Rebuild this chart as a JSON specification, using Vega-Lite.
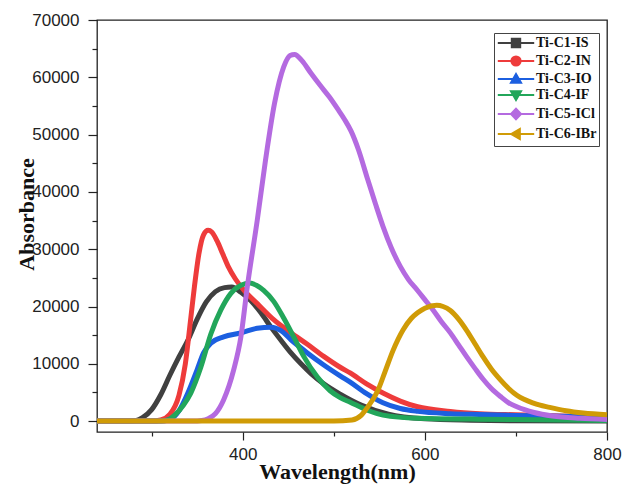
{
  "$schema": "https://vega.github.io/schema/vega-lite/v6.json",
  "width": 510,
  "height": 412,
  "autosize": {"type": "none"},
  "padding": {"left": 97, "top": 20, "right": 15, "bottom": 52},
  "background": "white",
  "data": {"values": [
    {"s":"Ti-C1-IS","x":240,"y":0},{"s":"Ti-C1-IS","x":270,"y":0},{"s":"Ti-C1-IS","x":283,"y":100},{"s":"Ti-C1-IS","x":290,"y":600},{"s":"Ti-C1-IS","x":300,"y":2000},{"s":"Ti-C1-IS","x":310,"y":4600},{"s":"Ti-C1-IS","x":320,"y":8000},{"s":"Ti-C1-IS","x":330,"y":11200},{"s":"Ti-C1-IS","x":340,"y":14200},{"s":"Ti-C1-IS","x":350,"y":17800},{"s":"Ti-C1-IS","x":360,"y":20800},{"s":"Ti-C1-IS","x":370,"y":22600},{"s":"Ti-C1-IS","x":380,"y":23300},{"s":"Ti-C1-IS","x":388,"y":23400},{"s":"Ti-C1-IS","x":398,"y":22500},{"s":"Ti-C1-IS","x":409,"y":21000},{"s":"Ti-C1-IS","x":420,"y":18900},{"s":"Ti-C1-IS","x":431,"y":16400},{"s":"Ti-C1-IS","x":442,"y":14100},{"s":"Ti-C1-IS","x":453,"y":11900},{"s":"Ti-C1-IS","x":464,"y":10000},{"s":"Ti-C1-IS","x":475,"y":8300},{"s":"Ti-C1-IS","x":489,"y":6500},{"s":"Ti-C1-IS","x":507,"y":4700},{"s":"Ti-C1-IS","x":530,"y":2800},{"s":"Ti-C1-IS","x":560,"y":1200},{"s":"Ti-C1-IS","x":600,"y":400},{"s":"Ti-C1-IS","x":650,"y":150},{"s":"Ti-C1-IS","x":700,"y":50},{"s":"Ti-C1-IS","x":800,"y":0},
    {"s":"Ti-C2-IN","x":240,"y":0},{"s":"Ti-C2-IN","x":300,"y":0},{"s":"Ti-C2-IN","x":310,"y":200},{"s":"Ti-C2-IN","x":320,"y":1200},{"s":"Ti-C2-IN","x":330,"y":4500},{"s":"Ti-C2-IN","x":337,"y":10000},{"s":"Ti-C2-IN","x":343,"y":18000},{"s":"Ti-C2-IN","x":347,"y":23500},{"s":"Ti-C2-IN","x":352,"y":29300},{"s":"Ti-C2-IN","x":357,"y":32500},{"s":"Ti-C2-IN","x":362,"y":33300},{"s":"Ti-C2-IN","x":366,"y":33000},{"s":"Ti-C2-IN","x":372,"y":31400},{"s":"Ti-C2-IN","x":378,"y":29200},{"s":"Ti-C2-IN","x":384,"y":27000},{"s":"Ti-C2-IN","x":392,"y":24800},{"s":"Ti-C2-IN","x":401,"y":22900},{"s":"Ti-C2-IN","x":416,"y":20500},{"s":"Ti-C2-IN","x":434,"y":17700},{"s":"Ti-C2-IN","x":453,"y":15400},{"s":"Ti-C2-IN","x":471,"y":13400},{"s":"Ti-C2-IN","x":489,"y":11300},{"s":"Ti-C2-IN","x":507,"y":9400},{"s":"Ti-C2-IN","x":518,"y":8400},{"s":"Ti-C2-IN","x":536,"y":6500},{"s":"Ti-C2-IN","x":554,"y":4900},{"s":"Ti-C2-IN","x":573,"y":3500},{"s":"Ti-C2-IN","x":592,"y":2500},{"s":"Ti-C2-IN","x":628,"y":1700},{"s":"Ti-C2-IN","x":660,"y":1300},{"s":"Ti-C2-IN","x":700,"y":1100},{"s":"Ti-C2-IN","x":750,"y":900},{"s":"Ti-C2-IN","x":800,"y":750},
    {"s":"Ti-C3-IO","x":240,"y":0},{"s":"Ti-C3-IO","x":310,"y":0},{"s":"Ti-C3-IO","x":320,"y":300},{"s":"Ti-C3-IO","x":330,"y":1800},{"s":"Ti-C3-IO","x":340,"y":5000},{"s":"Ti-C3-IO","x":350,"y":9000},{"s":"Ti-C3-IO","x":357,"y":11900},{"s":"Ti-C3-IO","x":365,"y":13600},{"s":"Ti-C3-IO","x":379,"y":14700},{"s":"Ti-C3-IO","x":398,"y":15400},{"s":"Ti-C3-IO","x":416,"y":16200},{"s":"Ti-C3-IO","x":431,"y":16400},{"s":"Ti-C3-IO","x":442,"y":15800},{"s":"Ti-C3-IO","x":453,"y":14200},{"s":"Ti-C3-IO","x":471,"y":11900},{"s":"Ti-C3-IO","x":489,"y":9800},{"s":"Ti-C3-IO","x":507,"y":7900},{"s":"Ti-C3-IO","x":518,"y":6800},{"s":"Ti-C3-IO","x":536,"y":4800},{"s":"Ti-C3-IO","x":554,"y":3200},{"s":"Ti-C3-IO","x":573,"y":2200},{"s":"Ti-C3-IO","x":592,"y":1700},{"s":"Ti-C3-IO","x":628,"y":1300},{"s":"Ti-C3-IO","x":660,"y":1150},{"s":"Ti-C3-IO","x":700,"y":1000},{"s":"Ti-C3-IO","x":750,"y":850},{"s":"Ti-C3-IO","x":800,"y":700},
    {"s":"Ti-C4-IF","x":240,"y":0},{"s":"Ti-C4-IF","x":310,"y":0},{"s":"Ti-C4-IF","x":318,"y":200},{"s":"Ti-C4-IF","x":325,"y":1000},{"s":"Ti-C4-IF","x":335,"y":2800},{"s":"Ti-C4-IF","x":343,"y":4900},{"s":"Ti-C4-IF","x":354,"y":9400},{"s":"Ti-C4-IF","x":365,"y":15200},{"s":"Ti-C4-IF","x":376,"y":19400},{"s":"Ti-C4-IF","x":387,"y":22300},{"s":"Ti-C4-IF","x":398,"y":23700},{"s":"Ti-C4-IF","x":408,"y":24100},{"s":"Ti-C4-IF","x":415,"y":23700},{"s":"Ti-C4-IF","x":423,"y":22800},{"s":"Ti-C4-IF","x":434,"y":20900},{"s":"Ti-C4-IF","x":445,"y":18000},{"s":"Ti-C4-IF","x":456,"y":14700},{"s":"Ti-C4-IF","x":467,"y":11300},{"s":"Ti-C4-IF","x":482,"y":7700},{"s":"Ti-C4-IF","x":496,"y":5300},{"s":"Ti-C4-IF","x":507,"y":4100},{"s":"Ti-C4-IF","x":518,"y":3300},{"s":"Ti-C4-IF","x":537,"y":1900},{"s":"Ti-C4-IF","x":554,"y":1050},{"s":"Ti-C4-IF","x":592,"y":500},{"s":"Ti-C4-IF","x":650,"y":350},{"s":"Ti-C4-IF","x":700,"y":280},{"s":"Ti-C4-IF","x":800,"y":120},
    {"s":"Ti-C5-ICl","x":240,"y":0},{"s":"Ti-C5-ICl","x":345,"y":0},{"s":"Ti-C5-ICl","x":355,"y":100},{"s":"Ti-C5-ICl","x":362,"y":400},{"s":"Ti-C5-ICl","x":370,"y":1300},{"s":"Ti-C5-ICl","x":379,"y":3700},{"s":"Ti-C5-ICl","x":390,"y":8900},{"s":"Ti-C5-ICl","x":398,"y":14700},{"s":"Ti-C5-ICl","x":405,"y":23400},{"s":"Ti-C5-ICl","x":416,"y":35100},{"s":"Ti-C5-ICl","x":425,"y":45500},{"s":"Ti-C5-ICl","x":435,"y":55500},{"s":"Ti-C5-ICl","x":445,"y":61800},{"s":"Ti-C5-ICl","x":452,"y":63800},{"s":"Ti-C5-ICl","x":457,"y":64000},{"s":"Ti-C5-ICl","x":465,"y":62900},{"s":"Ti-C5-ICl","x":475,"y":60700},{"s":"Ti-C5-ICl","x":485,"y":58600},{"s":"Ti-C5-ICl","x":495,"y":56600},{"s":"Ti-C5-ICl","x":505,"y":54300},{"s":"Ti-C5-ICl","x":512,"y":52600},{"s":"Ti-C5-ICl","x":519,"y":50600},{"s":"Ti-C5-ICl","x":527,"y":47400},{"s":"Ti-C5-ICl","x":537,"y":42300},{"s":"Ti-C5-ICl","x":546,"y":37800},{"s":"Ti-C5-ICl","x":554,"y":34000},{"s":"Ti-C5-ICl","x":563,"y":30300},{"s":"Ti-C5-ICl","x":573,"y":27000},{"s":"Ti-C5-ICl","x":582,"y":24700},{"s":"Ti-C5-ICl","x":592,"y":22800},{"s":"Ti-C5-ICl","x":600,"y":21200},{"s":"Ti-C5-ICl","x":609,"y":19400},{"s":"Ti-C5-ICl","x":618,"y":17400},{"s":"Ti-C5-ICl","x":628,"y":15400},{"s":"Ti-C5-ICl","x":637,"y":13300},{"s":"Ti-C5-ICl","x":646,"y":11200},{"s":"Ti-C5-ICl","x":655,"y":9200},{"s":"Ti-C5-ICl","x":664,"y":7300},{"s":"Ti-C5-ICl","x":673,"y":5700},{"s":"Ti-C5-ICl","x":683,"y":4300},{"s":"Ti-C5-ICl","x":692,"y":3200},{"s":"Ti-C5-ICl","x":701,"y":2500},{"s":"Ti-C5-ICl","x":720,"y":1500},{"s":"Ti-C5-ICl","x":740,"y":900},{"s":"Ti-C5-ICl","x":770,"y":500},{"s":"Ti-C5-ICl","x":800,"y":300},
    {"s":"Ti-C6-IBr","x":240,"y":0},{"s":"Ti-C6-IBr","x":500,"y":0},{"s":"Ti-C6-IBr","x":520,"y":200},{"s":"Ti-C6-IBr","x":530,"y":1000},{"s":"Ti-C6-IBr","x":537,"y":2400},{"s":"Ti-C6-IBr","x":548,"y":5200},{"s":"Ti-C6-IBr","x":556,"y":8500},{"s":"Ti-C6-IBr","x":565,"y":12300},{"s":"Ti-C6-IBr","x":576,"y":15900},{"s":"Ti-C6-IBr","x":585,"y":17900},{"s":"Ti-C6-IBr","x":592,"y":18900},{"s":"Ti-C6-IBr","x":600,"y":19700},{"s":"Ti-C6-IBr","x":613,"y":20200},{"s":"Ti-C6-IBr","x":620,"y":20000},{"s":"Ti-C6-IBr","x":628,"y":19300},{"s":"Ti-C6-IBr","x":637,"y":17800},{"s":"Ti-C6-IBr","x":646,"y":15800},{"s":"Ti-C6-IBr","x":655,"y":13500},{"s":"Ti-C6-IBr","x":664,"y":11200},{"s":"Ti-C6-IBr","x":673,"y":9100},{"s":"Ti-C6-IBr","x":683,"y":7200},{"s":"Ti-C6-IBr","x":692,"y":5700},{"s":"Ti-C6-IBr","x":701,"y":4500},{"s":"Ti-C6-IBr","x":720,"y":3100},{"s":"Ti-C6-IBr","x":737,"y":2400},{"s":"Ti-C6-IBr","x":755,"y":1800},{"s":"Ti-C6-IBr","x":774,"y":1400},{"s":"Ti-C6-IBr","x":800,"y":1100}
  ]},
  "encoding": {
    "x": {"field": "x", "type": "quantitative",
      "scale": {"domain": [240, 800], "nice": false, "zero": false},
      "axis": {"values": [300, 400, 500, 600, 700, 800],
        "labelExpr": "datum.value % 200 === 0 ? datum.label : ''",
        "tickSize": {"condition": {"test": "datum.value % 200 === 0", "value": 8}, "value": 4},
        "labelPadding": 6, "labelFlush": false, "labelOverlap": false, "labelBound": false,
        "title": "Wavelength(nm)", "titleX": 240, "titleY": 46, "titleAlign": "center", "titleBaseline": "alphabetic"}},
    "y": {"field": "y", "type": "quantitative",
      "scale": {"domain": [-1900, 70000], "nice": false, "zero": false},
      "axis": {"values": [0,5000,10000,15000,20000,25000,30000,35000,40000,45000,50000,55000,60000,65000,70000],
        "format": "d",
        "labelExpr": "datum.value % 10000 === 0 ? datum.label : ''",
        "tickSize": {"condition": {"test": "datum.value % 10000 === 0", "value": 9}, "value": 5},
        "labelPadding": 9, "labelOverlap": false, "labelBound": false,
        "title": "Absorbance", "titleX": -64, "titleY": 194, "titleAngle": -90, "titleAlign": "center", "titleBaseline": "alphabetic"}}
  },
  "layer": [
    {"mark": {"type": "line", "strokeWidth": 5, "interpolate": "monotone"},
     "encoding": {"color": {"field": "s", "type": "nominal", "legend": null,
       "scale": {"domain": ["Ti-C1-IS","Ti-C2-IN","Ti-C3-IO","Ti-C4-IF","Ti-C5-ICl","Ti-C6-IBr"],
        "range": ["#404040","#ee3b3b","#1c5fe0","#22a65a","#b46ae0","#d09b06"]}}}},
    {"mark": {"type": "point", "filled": false, "fillOpacity": 0, "strokeOpacity": 0},
     "encoding": {
       "shape": {"field": "s", "type": "nominal",
         "scale": {"domain": ["Ti-C1-IS","Ti-C2-IN","Ti-C3-IO","Ti-C4-IF","Ti-C5-ICl","Ti-C6-IBr"],
           "range": [
             "M-2.6,0H2.6M-0.6,-0.6H0.6V0.6H-0.6Z",
             "M-2.6,0H2.6M-0.66,0A0.66,0.66 0 1,0 0.66,0A0.66,0.66 0 1,0 -0.66,0Z",
             "M-2.6,0H2.6M0,-0.7L0.72,0.55H-0.72Z",
             "M-2.6,0H2.6M0,0.7L0.72,-0.55H-0.72Z",
             "M-2.6,0H2.6M0,-0.75L0.72,0L0,0.75L-0.72,0Z",
             "M-2.6,0H2.6M-0.7,0L0.55,-0.72V0.72Z"]},
         "legend": {"title": null, "orient": "none", "legendX": 397, "legendY": 13,
           "encode": {"symbols": {"update": {"strokeOpacity": {"value": 1}, "fillOpacity": {"value": 1}, "opacity": {"value": 1}}}}}},
       "fill": {"field": "s", "type": "nominal",
         "scale": {"domain": ["Ti-C1-IS","Ti-C2-IN","Ti-C3-IO","Ti-C4-IF","Ti-C5-ICl","Ti-C6-IBr"],
          "range": ["#404040","#ee3b3b","#1c5fe0","#22a65a","#b46ae0","#d09b06"]},
         "legend": {"title": null, "orient": "none", "legendX": 397, "legendY": 13,
           "encode": {"symbols": {"update": {"strokeOpacity": {"value": 1}, "fillOpacity": {"value": 1}, "opacity": {"value": 1}}}}}},
       "stroke": {"field": "s", "type": "nominal",
         "scale": {"domain": ["Ti-C1-IS","Ti-C2-IN","Ti-C3-IO","Ti-C4-IF","Ti-C5-ICl","Ti-C6-IBr"],
          "range": ["#404040","#ee3b3b","#1c5fe0","#22a65a","#b46ae0","#d09b06"]},
         "legend": {"title": null, "orient": "none", "legendX": 397, "legendY": 13,
           "encode": {"symbols": {"update": {"strokeOpacity": {"value": 1}, "fillOpacity": {"value": 1}, "opacity": {"value": 1}}}}}}
     }}
  ],
  "resolve": {"scale": {"color": "independent", "shape": "independent", "fill": "independent", "stroke": "independent"}},
  "config": {
    "view": {"stroke": "#222", "strokeWidth": 1.3},
    "axis": {"domain": false, "grid": false, "tickColor": "#222", "tickWidth": 1.2,
      "labelFont": "Liberation Sans", "labelFontSize": 17, "labelColor": "#222",
      "titleFont": "Liberation Serif", "titleFontWeight": "bold", "titleFontSize": 22, "titleColor": "#111"},
    "legend": {
      "strokeColor": "#444", "fillColor": "white", "padding": 2,
      "symbolSize": 196, "symbolOffset": 12, "labelOffset": 12, "symbolStrokeWidth": 2,
      "rowPadding": 0, "labelFont": "Liberation Serif", "labelFontWeight": "bold", "labelFontSize": 14, "labelColor": "#111"}
  }
}
